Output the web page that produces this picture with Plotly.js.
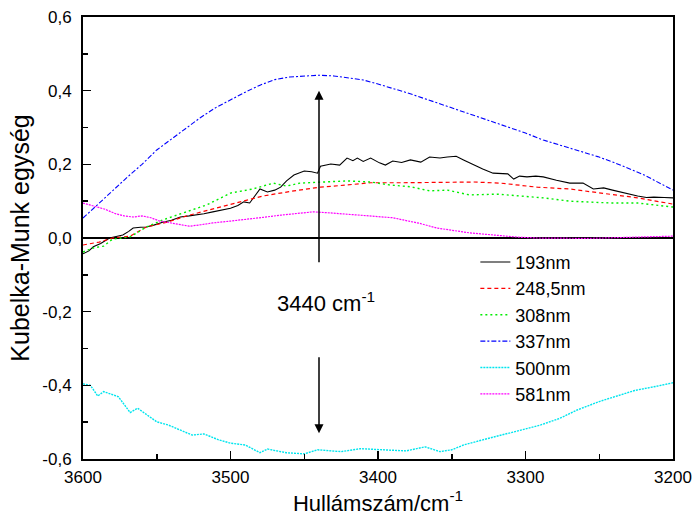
<!DOCTYPE html>
<html>
<head>
<meta charset="utf-8">
<script src="https://cdn.plot.ly/plotly-3.0.1.min.js"></script>
<style>html,body{margin:0;padding:0;background:#fff;}#chart{width:694px;height:526px;}</style>
</head>
<body>
<div id="chart"></div>
<script>
// ---- data (wavenumber / cm-1, Kubelka-Munk units) ----
const seriesNames = ["193nm", "248,5nm", "308nm", "337nm", "500nm", "581nm"];

const wn193 = [3600,3596,3593,3588,3582,3577,3573,3569,3566,3561,3557,3552,3546,3540,3534,3528,3523,3518,3512,3506,3500,3495,3491,3487,3483,3480,3475,3470,3466,3462,3457,3450,3445,3441,3439,3432,3426,3421,3417,3414,3410,3405,3399,3395,3390,3384,3378,3371,3365,3358,3353,3347,3342,3338,3333,3329,3322,3317,3312,3308,3304,3299,3293,3288,3283,3279,3270,3265,3261,3254,3247,3241,3236,3230,3224,3218,3213,3206,3200];
const km193 = [-0.043,-0.035,-0.024,-0.015,0.0,0.005,0.008,0.018,0.027,0.029,0.030,0.035,0.043,0.048,0.057,0.060,0.062,0.066,0.071,0.075,0.081,0.088,0.098,0.095,0.115,0.133,0.125,0.130,0.138,0.155,0.171,0.182,0.180,0.176,0.195,0.201,0.198,0.217,0.210,0.217,0.208,0.217,0.204,0.198,0.209,0.205,0.212,0.206,0.220,0.217,0.220,0.222,0.212,0.204,0.196,0.187,0.176,0.175,0.174,0.160,0.168,0.166,0.168,0.166,0.162,0.157,0.149,0.150,0.149,0.133,0.136,0.130,0.125,0.120,0.114,0.110,0.111,0.110,0.109];

const wn248 = [3600,3589,3580,3568,3557,3543,3528,3512,3496,3478,3457,3439,3421,3405,3383,3360,3335,3317,3292,3270,3247,3224,3200];
const km248 = [-0.019,-0.011,0.0,0.005,0.030,0.043,0.062,0.078,0.096,0.114,0.128,0.138,0.144,0.150,0.150,0.150,0.152,0.149,0.138,0.133,0.122,0.109,0.092];

const wn308 = [3600,3593,3586,3580,3568,3557,3546,3532,3516,3500,3485,3471,3462,3453,3439,3421,3405,3392,3378,3365,3353,3338,3319,3304,3288,3270,3256,3242,3224,3212,3200];
const km308 = [-0.038,-0.027,-0.022,-0.003,0.003,0.030,0.049,0.068,0.090,0.122,0.133,0.149,0.141,0.149,0.152,0.155,0.152,0.144,0.139,0.128,0.130,0.117,0.119,0.114,0.109,0.100,0.098,0.095,0.095,0.090,0.084];

const wn337 = [3600,3590,3580,3570,3560,3550,3540,3530,3520,3510,3500,3490,3480,3470,3460,3450,3440,3430,3420,3410,3400,3380,3360,3340,3320,3300,3288,3270,3251,3240,3220,3200];
const km337 = [0.054,0.090,0.128,0.165,0.200,0.239,0.268,0.298,0.328,0.354,0.376,0.396,0.415,0.430,0.437,0.440,0.442,0.440,0.435,0.429,0.418,0.394,0.367,0.339,0.311,0.285,0.266,0.245,0.221,0.205,0.172,0.130];

const wn500 = [3600,3595,3590,3586,3576,3568,3563,3550,3542,3526,3518,3508,3500,3490,3480,3475,3462,3450,3441,3425,3412,3400,3381,3368,3358,3350,3342,3329,3316,3300,3290,3277,3265,3250,3239,3226,3213,3200];
const km500 = [-0.396,-0.400,-0.429,-0.417,-0.431,-0.474,-0.462,-0.499,-0.508,-0.535,-0.532,-0.548,-0.557,-0.562,-0.583,-0.573,-0.583,-0.586,-0.575,-0.580,-0.572,-0.574,-0.578,-0.567,-0.580,-0.575,-0.562,-0.548,-0.535,-0.517,-0.508,-0.490,-0.467,-0.444,-0.431,-0.414,-0.404,-0.393];

const wn581 = [3600,3592,3585,3578,3572,3566,3560,3554,3548,3542,3536,3528,3520,3512,3500,3489,3478,3466,3455,3444,3432,3420,3410,3399,3390,3383,3372,3360,3350,3338,3327,3315,3304,3292,3280,3270,3258,3247,3235,3224,3212,3200];
const km581 = [0.095,0.085,0.078,0.066,0.060,0.057,0.060,0.055,0.046,0.042,0.038,0.032,0.036,0.041,0.046,0.052,0.056,0.062,0.066,0.071,0.068,0.064,0.062,0.057,0.055,0.049,0.040,0.027,0.021,0.014,0.010,0.005,0.002,0.000,-0.001,-0.002,-0.001,0.000,0.001,0.003,0.004,0.005];

const xTickVals = [3600, 3500, 3400, 3300, 3200];
const xTickText = ["3600", "3500", "3400", "3300", "3200"];
const yTickVals = [-0.6, -0.4, -0.2, 0.0, 0.2, 0.4, 0.6];
const yTickText = ["-0,6", "-0,4", "-0,2", "0,0", "0,2", "0,4", "0,6"];

const peakPos = 3440;
const peakLabel = "3440 cm<sup>-1</sup>";

// ---- chart ----
const FONT = "Liberation Sans, Arial, Helvetica, sans-serif";
const xs = [wn193, wn248, wn308, wn337, wn500, wn581];
const ys = [km193, km248, km308, km337, km500, km581];
const styles = [
  {color: "#000000", dash: "solid", width: 1.1},
  {color: "#ff0000", dash: "4px,3px", width: 1.2},
  {color: "#00ee00", dash: "2px,3px", width: 1.4},
  {color: "#0000ff", dash: "5px,2px,2px,2px", width: 1.1},
  {color: "#00e5ee", dash: "2px,1px", width: 1.4},
  {color: "#ff00ff", dash: "2px,1px", width: 1.2}
];
const traces = seriesNames.map((n, i) => ({
  type: "scatter", mode: "lines", name: n,
  x: xs[i], y: ys[i],
  line: styles[i]
}));

const layout = {
  width: 694, height: 526,
  margin: {l: 83, r: 21, t: 17, b: 67},
  paper_bgcolor: "#ffffff", plot_bgcolor: "#ffffff",
  font: {family: FONT, color: "#000000", size: 17},
  showlegend: true,
  legend: {
    x: 0.665, y: 0.487, xanchor: "left", yanchor: "top",
    bgcolor: "rgba(0,0,0,0)", borderwidth: 0,
    font: {family: FONT, size: 18, color: "#000"},
    tracegroupgap: 0
  },
  xaxis: {
    range: [3600, 3200], autorange: false,
    tickvals: xTickVals, ticktext: xTickText,
    ticks: "inside", ticklen: 8, tickwidth: 1.5, tickcolor: "#000",
    minor: {dtick: 50, ticks: "inside", ticklen: 5, tickwidth: 1.5, tickcolor: "#000", showgrid: false},
    showline: true, linecolor: "#000", linewidth: 2, mirror: true,
    showgrid: false, zeroline: false,
    tickfont: {family: FONT, size: 17, color: "#000"},
    ticklabelstandoff: 2,
    title: {text: "Hullámszám/cm<sup>-1</sup>", font: {family: FONT, size: 22, color: "#000"}, standoff: 8}
  },
  yaxis: {
    range: [-0.6, 0.6], autorange: false,
    tickvals: yTickVals, ticktext: yTickText,
    ticks: "inside", ticklen: 8, tickwidth: 1.5, tickcolor: "#000",
    minor: {dtick: 0.1, ticks: "inside", ticklen: 5, tickwidth: 1.5, tickcolor: "#000", showgrid: false},
    showline: true, linecolor: "#000", linewidth: 2, mirror: true,
    showgrid: false,
    zeroline: true, zerolinecolor: "#000", zerolinewidth: 1.8,
    tickfont: {family: FONT, size: 17, color: "#000"},
    ticklabelstandoff: 6,
    title: {text: "Kubelka-Munk egység", font: {family: FONT, size: 25, color: "#000"}, standoff: 6}
  },
  annotations: [
    {x: peakPos, y: 0.40, ax: peakPos, ay: -0.07, xref: "x", yref: "y", axref: "x", ayref: "y",
     showarrow: true, arrowhead: 2, arrowsize: 1.2, arrowwidth: 1.5, arrowcolor: "#000", text: ""},
    {x: peakPos, y: -0.53, ax: peakPos, ay: -0.32, xref: "x", yref: "y", axref: "x", ayref: "y",
     showarrow: true, arrowhead: 2, arrowsize: 1.2, arrowwidth: 1.5, arrowcolor: "#000", text: ""},
    {x: peakPos, y: -0.175, xref: "x", yref: "y", xshift: 7, showarrow: false,
     text: peakLabel, font: {family: FONT, size: 22, color: "#000"}}
  ]
};

Plotly.newPlot("chart", traces, layout, {displayModeBar: false, staticPlot: true});
</script>
</body>
</html>
